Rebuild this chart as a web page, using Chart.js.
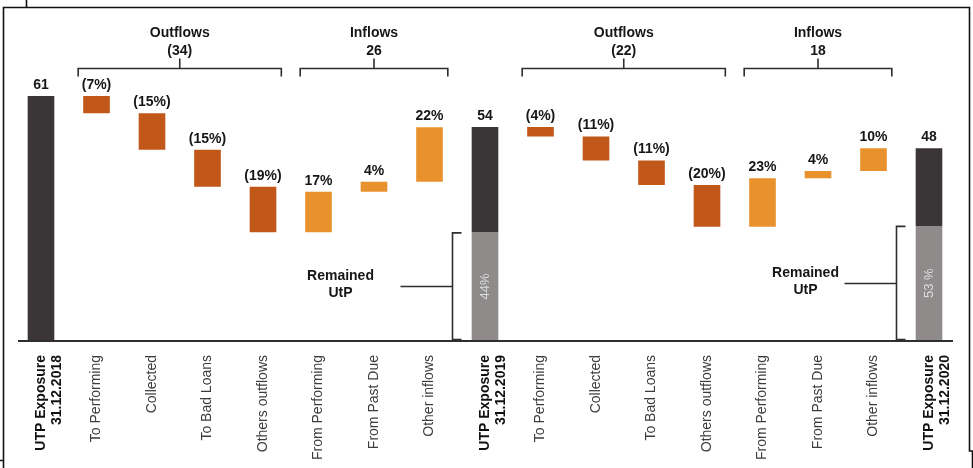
<!DOCTYPE html>
<html><head><meta charset="utf-8">
<script src="https://cdn.jsdelivr.net/npm/chart.js@4.4.1/dist/chart.umd.min.js"></script>
<style>html,body{margin:0;padding:0;background:#fff;}canvas{display:block;}</style>
</head><body>
<canvas id="c" width="973" height="468"></canvas>
<script>
const N = null;
const categories = [
  ["UTP Exposure", "31.12.2018"], "To Performing", "Collected", "To Bad Loans", "Others outflows",
  "From Performing", "From Past Due", "Other inflows",
  ["UTP Exposure", "31.12.2019"], "To Performing", "Collected", "To Bad Loans", "Others outflows",
  "From Performing", "From Past Due", "Other inflows",
  ["UTP Exposure", "31.12.2020"]
];
// floating ranges [low, high]
const exposure    = [[0,61],N,N,N,N,N,N,N,[27,53.3],N,N,N,N,N,N,N,[28.6,48]];
const remainedUtP = [N,N,N,N,N,N,N,N,[0,27],N,N,N,N,N,N,N,[0,28.6]];
const outflows    = [N,[56.7,61],[47.6,56.7],[38.4,47.6],[27,38.4],N,N,N,N,[50.9,53.3],[44.9,50.9],[38.8,44.9],[28.4,38.8],N,N,N,N];
const inflows     = [N,N,N,N,N,[27,37.1],[37.1,39.6],[39.6,53.2],N,N,N,N,N,[28.4,40.5],[40.5,42.3],[42.3,48],N];
const barLabels   = ["61","(7%)","(15%)","(15%)","(19%)","17%","4%","22%","54","(4%)","(11%)","(11%)","(20%)","23%","4%","10%","48"];
const remainedPct = [N,N,N,N,N,N,N,N,"44%",N,N,N,N,N,N,N,"53 %"];
const groupTitles = ["Outflows","Inflows","Outflows","Inflows"];
const groupValues = ["(34)","26","(22)","18"];
const groupFrom   = [1,5,9,13];
const groupTo     = [4,7,12,15];
const remainedText = ["Remained","UtP"];

const FONT = "'Liberation Sans', Arial, Helvetica, sans-serif";
const COLORS = {dark:'#3a3536', gray:'#8f8b8a', out:'#c2571a', inn:'#e9922d', text:'#161616', line:'#2e2e2e'};

const framePlugin = {
  id:'frame',
  beforeDraw(chart){
    const c = chart.ctx;
    c.save();
    c.fillStyle='#fff'; c.fillRect(0,0,chart.width,chart.height);
    c.strokeStyle='#111'; c.lineWidth=1.6;
    c.beginPath();
    c.moveTo(26.5,0); c.lineTo(26.5,7.5);
    c.moveTo(3.5,468); c.lineTo(3.5,7.5); c.lineTo(969.5,7.5); c.lineTo(969.5,451);
    c.lineTo(972.5,451); c.lineTo(972.5,468);
    c.moveTo(0,460.5); c.lineTo(3.5,460.5);
    c.stroke();
    c.restore();
  }
};

const annotPlugin = {
  id:'annot',
  afterDatasetsDraw(chart){
    const c = chart.ctx, xs = chart.scales.x, ys = chart.scales.y;
    const step = xs.getPixelForValue(1) - xs.getPixelForValue(0);
    const base = ys.getPixelForValue(0);
    c.save();
    // axis line
    c.strokeStyle = COLORS.line; c.lineWidth = 2;
    c.beginPath(); c.moveTo(18, base+0.5); c.lineTo(953, base+0.5); c.stroke();
    // value labels above bars
    c.font = `bold 14px ${FONT}`; c.fillStyle = COLORS.text;
    c.textAlign='center'; c.textBaseline='middle';
    for (let i=0;i<categories.length;i++){
      let top = Infinity;
      chart.data.datasets.forEach((ds,di)=>{
        if (ds.data[i]!=null){ const el = chart.getDatasetMeta(di).data[i]; top = Math.min(top, el.y, el.base); }
      });
      c.fillText(barLabels[i], xs.getPixelForValue(i), top-11);
    }
    // percentages inside gray bars
    const gMeta = chart.getDatasetMeta(1);
    c.fillStyle = '#dadde3'; c.font = `13px ${FONT}`;
    remainedPct.forEach((t,i)=>{
      if(!t) return;
      const el = gMeta.data[i];
      c.save(); c.translate(el.x, (el.y+el.base)/2); c.rotate(-Math.PI/2);
      c.fillText(t,0,0); c.restore();
    });
    // group brackets
    c.strokeStyle = COLORS.line; c.lineWidth = 1.6; c.fillStyle = COLORS.text;
    groupTitles.forEach((t,g)=>{
      const x1 = xs.getPixelForValue(groupFrom[g]) - 0.33*step;
      const x2 = xs.getPixelForValue(groupTo[g]) + 0.33*step;
      const xm = (x1+x2)/2, yb = 68.5;
      c.beginPath();
      c.moveTo(x1, yb+8); c.lineTo(x1, yb); c.lineTo(x2, yb); c.lineTo(x2, yb+8);
      c.moveTo(xm, yb); c.lineTo(xm, yb-10);
      c.stroke();
      c.font = `bold 14px ${FONT}`;
      c.fillText(t, xm, 33);
      c.fillText(groupValues[g], xm, 51);
    });
    // remained UtP brackets
    const textOffsets = [112, 91];
    let k = 0;
    remainedPct.forEach((t,i)=>{
      if(!t) return;
      const el = gMeta.data[i];
      const xb = Math.round(el.x - el.width/2 - 20) + 0.5;
      const yTop = el.y, yBot = el.base - 1;
      const ym = Math.round((yTop+yBot)/2) + 0.5;
      c.beginPath();
      c.moveTo(xb+9, yTop+0.5); c.lineTo(xb, yTop+0.5); c.lineTo(xb, yBot); c.lineTo(xb+9, yBot);
      c.moveTo(xb, ym); c.lineTo(xb-52, ym);
      c.stroke();
      const tx = xb - textOffsets[k++];
      c.font = `bold 14px ${FONT}`;
      c.fillText(remainedText[0], tx, ym-10);
      c.fillText(remainedText[1], tx, ym+7);
    });
    c.restore();
  }
};

new Chart(document.getElementById('c'), {
  type:'bar',
  data:{
    labels: categories,
    datasets:[
      {label:'Exposure', data: exposure, backgroundColor: COLORS.dark},
      {label:'Remained UtP', data: remainedUtP, backgroundColor: COLORS.gray},
      {label:'Outflows', data: outflows, backgroundColor: COLORS.out},
      {label:'Inflows', data: inflows, backgroundColor: COLORS.inn}
    ]
  },
  options:{
    responsive:false, animation:false, devicePixelRatio:1,
    layout:{padding:{left:13.25, right:16.25, top:20, bottom:0}},
    datasets:{bar:{grouped:false, categoryPercentage:1, barPercentage:0.48, borderWidth:0}},
    plugins:{legend:{display:false}, tooltip:{enabled:false}},
    scales:{
      y:{display:false, min:0, max:80},
      x:{
        grid:{display:false, drawTicks:false},
        border:{display:false},
        afterFit(scale){ scale.height = 127.5; scale.paddingLeft = 0; scale.paddingRight = 0; },
        ticks:{
          autoSkip:false, minRotation:90, maxRotation:90, padding:14.5,
          color:(ctx)=> ctx.index%8===0 ? '#111' : '#3c3c3c',
          font:(ctx)=>({family:FONT, size:14, weight: ctx.index%8===0 ? 'bold':'normal', lineHeight:1.18})
        }
      }
    }
  },
  plugins:[framePlugin, annotPlugin]
});
</script>
</body></html>
